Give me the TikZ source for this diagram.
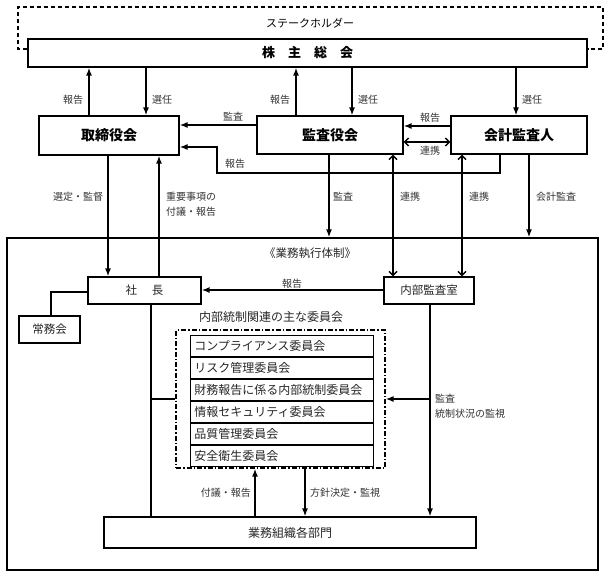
\documentclass[tikz,border=0pt]{standalone}
\usepackage{fontspec}
\setmainfont{Noto Sans CJK JP}
\usetikzlibrary{arrows.meta}
\begin{document}
\begin{tikzpicture}[x=1pt,y=-1pt,
  bx/.style 2 args={draw,line width=1.2pt,minimum width=#1,minimum height=#2,inner sep=0pt,fill=white},
  topfont/.style={font=\fontsize{14}{16}\selectfont\bfseries},
  midfont/.style={font=\fontsize{11.5}{13}\selectfont,text=black!85},
  lab/.style={font=\fontsize{10}{12}\selectfont,text=black!80,inner sep=0pt},
  arr/.style={line width=1.4pt,-{Latex[length=8pt,width=6pt]}},
  twin/.style={line width=1.4pt,{Straight Barb[length=4pt,width=8pt]}-{Straight Barb[length=4pt,width=8pt]}},
  ln/.style={line width=1.2pt},
  row/.style={draw,line width=0.7pt,minimum width=183,minimum height=21.33,inner sep=0pt,anchor=north west,
    font=\fontsize{12}{14}\selectfont,text=black!85,text width=175pt,align=left}]
\useasboundingbox (0,0) rectangle (609,575);

% stakeholders
\node[bx={559}{28},font=\fontsize{13}{15}\selectfont\bfseries] (sh) at (307.5,53) {株　主　総　会};
\draw[line width=1.2pt,dash pattern=on 4pt off 3pt] (sh.west |- 0,49) -- (18,49) -- (18,7) -- (603,7) -- (603,49) -- (sh.east |- 0,49);
\node[font=\fontsize{11}{13}\selectfont] (stake) at (310,23) {ステークホルダー};

% top boxes
\node[bx={140}{39},topfont] (tori) at (109,135.5) {取締役会};
\node[bx={146}{38},topfont] (kansa) at (330,135) {監査役会};
\node[bx={136}{38},topfont] (kaikei) at (519,135) {会計監査人};

% executive frame
\node[draw,line width=1.3pt,minimum width=591,minimum height=332,inner sep=0pt] (exec) at (302.5,404) {};
\node[midfont] (title) at (310,253) {《業務執行体制》};

\node[bx={113}{27},midfont] (shacho) at (144.5,290.5) {社\hspace{15pt}長};
\node[bx={90}{27},midfont] (naibu) at (429,290.5) {内部監査室};
\node[bx={61}{27},midfont] (jomu) at (49.5,329.5) {常務会};
\node[font=\fontsize{12}{14}\selectfont,text=black!85] (ictitle) at (271,317) {内部統制関連の主な委員会};

\node[draw,line width=1.2pt,dash pattern=on 5pt off 2pt on 1.5pt off 2pt,minimum width=209,minimum height=138,inner sep=0pt] (dd) at (280.5,399) {};
\node[row] (c1) at (190,335) {コンプライアンス委員会};
\node[row] (c2) at (c1.south west) {リスク管理委員会};
\node[row] (c3) at (c2.south west) {財務報告に係る内部統制委員会};
\node[row] (c4) at (c3.south west) {情報セキュリティ委員会};
\node[row] (c5) at (c4.south west) {品質管理委員会};
\node[row] (c6) at (c5.south west) {安全衛生委員会};

\node[bx={372}{31},font=\fontsize{12}{14}\selectfont,text=black!85] (gyomu) at (290,532.5) {業務組織各部門};

% top connectors
\draw[arr] (tori.north -| 89,0) -- (sh.south -| 89,0);
\node[lab] (l1) at (73,100) {報告};
\draw[arr] (sh.south -| 146,0) -- (tori.north -| 146,0);
\node[lab] (l2) at (162,100) {選任};
\draw[arr] (kansa.north -| 296,0) -- (sh.south -| 296,0);
\node[lab] (l3) at (280,100) {報告};
\draw[arr] (sh.south -| 352,0) -- (kansa.north -| 352,0);
\node[lab] (l4) at (368,100) {選任};
\draw[arr] (sh.south -| 516,0) -- (kaikei.north -| 516,0);
\node[lab] (l5) at (532,100) {選任};

\draw[arr] (kansa.west |- 0,125) -- (tori.east |- 0,125);
\node[lab] (l6) at (233,117) {監査};
\draw[arr] (kaikei.west |- 0,126) -- (kansa.east |- 0,126);
\node[lab] (l7) at (430,118) {報告};
\draw[twin] (kansa.east |- 0,142) -- (kaikei.west |- 0,142);
\node[lab] (l8) at (430,151) {連携};
\draw[arr] (kaikei.south -| 500,0) -- (500,173) -- (217,173) -- (217,147) -- (tori.east |- 0,147);
\node[lab] (l9) at (235,164) {報告};

% middle connectors
\draw[arr] (tori.south -| 108,0) -- (shacho.north -| 108,0);
\node[lab] (l10) at (78,197) {選定・監督};
\draw[arr] (shacho.north -| 159,0) -- (tori.south -| 159,0);
\node[lab,anchor=west,align=left] (l11) at (166,204.5) {重要事項の\\[3pt]付議・報告};
\draw[arr] (kansa.south -| 329,0) -- (exec.north -| 329,0);
\node[lab] (l12) at (343,197) {監査};
\draw[twin] (kansa.south -| 393,0) -- (naibu.north -| 393,0);
\node[lab] (l13) at (410,197) {連携};
\draw[twin] (kaikei.south -| 462,0) -- (naibu.north -| 462,0);
\node[lab] (l14) at (479,197) {連携};
\draw[arr] (kaikei.south -| 529,0) -- (exec.north -| 529,0);
\node[lab] (l15) at (556,197) {会計監査};

% inside executive frame
\draw[arr] (naibu.west |- 0,290) -- (shacho.east |- 0,290);
\node[lab] (l16) at (292,284) {報告};
\draw[ln] (shacho.west |- 0,292) -| (jomu.north -| 51,0);
\draw[ln] (shacho.south -| 151,0) -- (gyomu.north -| 151,0);
\coordinate (br) at (151,399);
\draw[ln] (br) -- (dd.west |- br);
\draw[arr] (naibu.south -| 430,0) -- (gyomu.north -| 430,0);
\coordinate (br2) at (430,399);
\draw[arr] (br2) -- (dd.east |- br2);
\node[lab,anchor=west,align=left] (l17) at (435,406) {監査\\[3pt]統制状況の監視};
\draw[arr] (gyomu.north -| 255,0) -- (dd.south -| 255,0);
\node[lab,anchor=east] (l18) at (251,493) {付議・報告};
\draw[arr] (dd.south -| 305,0) -- (gyomu.north -| 305,0);
\node[lab,anchor=west] (l19) at (310,493) {方針決定・監視};
\end{tikzpicture}
\end{document}
